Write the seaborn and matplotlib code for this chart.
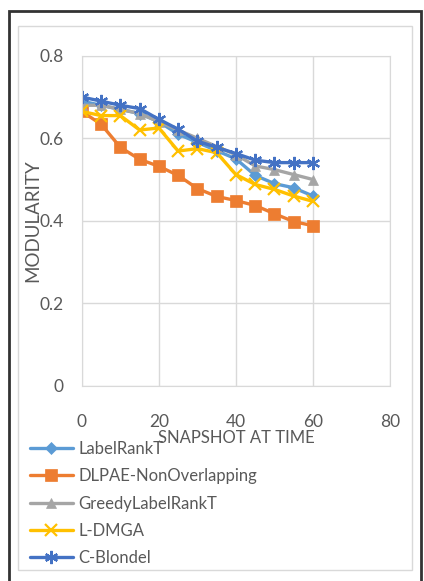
import matplotlib
matplotlib.use("Agg")
import matplotlib.pyplot as plt
import seaborn as sns
import pandas as pd
from matplotlib.patches import Rectangle

snapshots = [0, 5, 10, 15, 20, 25, 30, 35, 40, 45, 50, 55, 60]
label_rank_t = [0.69, 0.68, 0.67, 0.66, 0.64, 0.61, 0.59, 0.57, 0.55, 0.51, 0.49, 0.48, 0.46]
dlpae = [0.665, 0.634, 0.578, 0.549, 0.532, 0.51, 0.478, 0.459, 0.449, 0.437, 0.417, 0.398, 0.388]
greedy = [0.68, 0.68, 0.67, 0.66, 0.64, 0.62, 0.60, 0.58, 0.56, 0.533, 0.524, 0.512, 0.50]
l_dmga = [0.665, 0.655, 0.655, 0.62, 0.625, 0.569, 0.575, 0.565, 0.512, 0.488, 0.476, 0.46, 0.447]
c_blondel = [0.70, 0.69, 0.68, 0.672, 0.646, 0.622, 0.593, 0.578, 0.563, 0.547, 0.541, 0.541, 0.541]

series_names = ["LabelRankT", "DLPAE-NonOverlapping", "GreedyLabelRankT", "L-DMGA", "C-Blondel"]
series_values = [label_rank_t, dlpae, greedy, l_dmga, c_blondel]
colors = ["#5B9BD5", "#ED7D31", "#A5A5A5", "#FFC000", "#4472C4"]
markers = ["D", "s", "^", "x", (6, 2, 0)]
msizes = [6.5, 9, 7.5, 8.5, 9.5]

rows = []
for name, vals in zip(series_names, series_values):
    for x, v in zip(snapshots, vals):
        rows.append({"snapshot": x, "modularity": v, "series": name})
df = pd.DataFrame(rows)

sns.set_style("white")
plt.rcParams['font.family'] = ['Lato', 'DejaVu Sans']

fig = plt.figure(figsize=(4.24, 5.81), dpi=100)
ax = fig.add_axes([0.193, 0.336, 0.727, 0.568])

for name, col, mk, ms in zip(series_names, colors, markers, msizes):
    sub = df[df["series"] == name]
    thin = mk == "x" or isinstance(mk, tuple)
    sns.lineplot(data=sub, x="snapshot", y="modularity", ax=ax, color=col,
                 marker=mk, markersize=ms, linewidth=2.4, label=name,
                 markeredgecolor=col, markeredgewidth=1.6 if thin else 0.5)

ax.set_xlim(0, 80)
ax.set_ylim(0, 0.8)
ax.set_xticks([0, 20, 40, 60, 80])
ax.set_yticks([0, 0.2, 0.4, 0.6, 0.8])
ax.set_yticklabels(["0", "0.2", "0.4", "0.6", "0.8"])
ax.grid(True, color="#D9D9D9", linewidth=1)
for s in ax.spines.values():
    s.set_color("#D9D9D9")
ax.tick_params(axis="both", length=0, labelsize=12.5, colors="#595959")
ax.tick_params(axis="x", pad=20)
ax.tick_params(axis="y", pad=13)
ax.set_xlabel("SNAPSHOT AT TIME", fontsize=12, color="#595959")
ax.set_ylabel("MODULARITY", fontsize=13.5, color="#595959")
ax.yaxis.set_label_coords(-0.131, 0.5)
ax.xaxis.set_label_coords(0.5, -0.133)

leg = ax.legend(loc="upper left", bbox_to_anchor=(-0.169, -0.167), frameon=False,
                fontsize=12, handlelength=2.6, labelspacing=0.68, handletextpad=0.3,
                borderaxespad=0, borderpad=0)
for t in leg.get_texts():
    t.set_color("#595959")

fig.patches.append(Rectangle((9 / 424, 1 - 585 / 581), 412 / 424, 574 / 581,
                             transform=fig.transFigure, fill=False,
                             edgecolor="#333333", linewidth=2))
fig.patches.append(Rectangle((18 / 424, 1 - 570 / 581), 394 / 424, 544 / 581,
                             transform=fig.transFigure, fill=False,
                             edgecolor="#D9D9D9", linewidth=1))

fig.savefig("out.png", dpi=100)
